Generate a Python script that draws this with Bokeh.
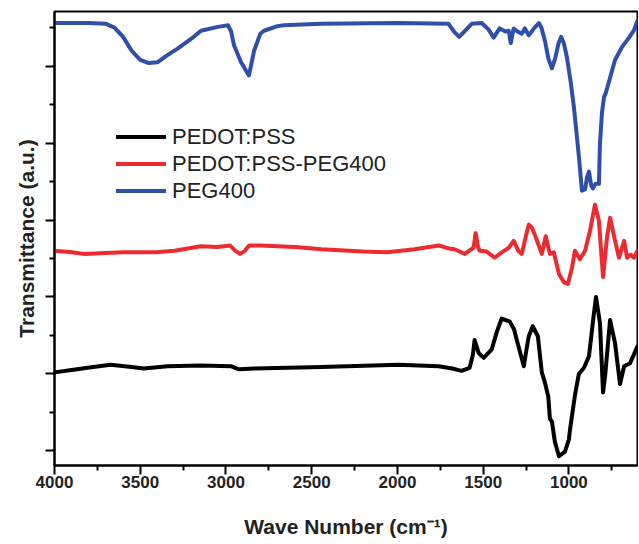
from bokeh.plotting import figure
from bokeh.models import Range1d, FixedTicker, Legend, LegendItem
from bokeh.embed import file_html
from bokeh.resources import INLINE

# ---- data (wavenumber in cm^-1, transmittance in a.u., offset per series) ----
pedot_wn = [4000, 3900, 3807, 3673, 3550, 3480, 3340, 3146, 2971, 2924, 2836, 2444,
            1994, 1760, 1680, 1626, 1579, 1560, 1550, 1526, 1497, 1450, 1420, 1392,
            1345, 1320, 1304, 1263, 1245, 1234, 1211, 1181, 1158, 1140, 1120, 1111,
            1099, 1082, 1058, 1023, 1000, 994, 965, 942, 912, 883, 854, 842, 819,
            801, 789, 760, 731, 702, 678, 643, 600]
pedot_t = [1.02, 1.05, 1.08, 1.12, 1.09, 1.07, 1.10, 1.11, 1.10, 1.06, 1.07, 1.09,
           1.12, 1.10, 1.07, 1.04, 1.08, 1.25, 1.44, 1.27, 1.21, 1.32, 1.55, 1.72,
           1.68, 1.58, 1.44, 1.10, 1.35, 1.49, 1.62, 1.49, 1.02, 0.89, 0.70, 0.42,
           0.38, 0.12, -0.07, -0.01, 0.15, 0.27, 0.72, 1.00, 1.08, 1.23, 1.79, 2.00, 1.66,
           0.76, 0.97, 1.70, 1.40, 0.87, 1.10, 1.14, 1.36]

mix_wn = [4000, 3900, 3830, 3700, 3600, 3409, 3300, 3146, 3050, 2977, 2945, 2918,
          2890, 2865, 2800, 2600, 2444, 2200, 2060, 1900, 1760, 1700, 1667, 1608,
          1556, 1544, 1530, 1520, 1480, 1433, 1392, 1350, 1322, 1295, 1275, 1250,
          1234, 1215, 1199, 1158, 1135, 1111, 1088, 1058, 1029, 1006, 982, 965, 936,
          906, 877, 848, 825, 801, 778, 760, 731, 708, 678, 661, 640, 620, 600]
mix_t = [2.60, 2.58, 2.56, 2.57, 2.58, 2.58, 2.60, 2.66, 2.65, 2.67, 2.60, 2.56,
         2.60, 2.67, 2.67, 2.65, 2.62, 2.59, 2.58, 2.62, 2.67, 2.63, 2.62, 2.56,
         2.64, 2.83, 2.65, 2.60, 2.59, 2.51, 2.58, 2.64, 2.73, 2.60, 2.56, 2.80,
         2.94, 2.90, 2.81, 2.56, 2.79, 2.56, 2.58, 2.30, 2.19, 2.17, 2.38, 2.60, 2.49,
         2.60, 2.86, 3.20, 2.99, 2.26, 2.77, 3.03, 2.73, 2.51, 2.73, 2.51, 2.55, 2.51, 2.60]

peg_wn = [4000, 3900, 3800, 3700, 3650, 3600, 3550, 3500, 3450, 3400, 3350, 3280,
          3200, 3146, 3047, 2988, 2970, 2953, 2912, 2880, 2866, 2850, 2836, 2800,
          2778, 2700, 2661, 2444, 2000, 1702, 1670, 1640, 1610, 1567, 1509, 1470,
          1439, 1404, 1370, 1351, 1339, 1322, 1300, 1275, 1257, 1234, 1200, 1175,
          1160, 1140, 1120, 1099, 1080, 1060, 1045, 1030, 1012, 990, 971, 942, 924,
          905, 895, 883, 870, 860, 845, 825, 819, 807, 795, 785, 760, 731, 690, 649,
          620, 600]
peg_t = [5.56, 5.56, 5.56, 5.55, 5.50, 5.38, 5.20, 5.08, 5.04, 5.05, 5.13, 5.23,
         5.36, 5.46, 5.51, 5.53, 5.45, 5.27, 5.05, 4.93, 4.88, 5.05, 5.20, 5.42,
         5.46, 5.52, 5.53, 5.55, 5.56, 5.55, 5.45, 5.38, 5.45, 5.55, 5.56, 5.48,
         5.37, 5.49, 5.45, 5.46, 5.30, 5.49, 5.45, 5.42, 5.49, 5.40, 5.50, 5.56,
         5.50, 5.33, 5.10, 4.97, 5.10, 5.30, 5.38, 5.30, 5.12, 4.80, 4.47, 3.83, 3.38,
         3.40, 3.55, 3.63, 3.45, 3.41, 3.47, 3.47, 4.00, 4.40, 4.60, 4.65, 4.85, 5.08,
         5.25, 5.37, 5.47, 5.59]

series_names = ["PEDOT:PSS", "PEDOT:PSS-PEG400", "PEG400"]
series_colors = ["#000000", "#ec2a30", "#2f4fa8"]

x_major = [4000, 3500, 3000, 2500, 2000, 1500, 1000]
x_minor = [3750, 3250, 2750, 2250, 1750, 1250, 750]
y_major = [0, 1, 2, 3, 4, 5]
y_minor = [0.5, 1.5, 2.5, 3.5, 4.5, 5.5]

FONT = "Liberation Sans"

p = figure(width=638, height=540, x_range=Range1d(4000, 600), y_range=Range1d(-0.19, 5.71),
           output_backend="svg", toolbar_location=None,
           min_border_left=54, min_border_right=1, min_border_top=11, min_border_bottom=69)
p.grid.visible = False
p.outline_line_color = "black"
p.outline_line_width = 2
p.background_fill_color = "white"
p.border_fill_color = "white"

renderers = []
for wn, t, c in zip([pedot_wn, mix_wn, peg_wn], [pedot_t, mix_t, peg_t], series_colors):
    r = p.line(wn, t, line_color=c, line_width=4, line_join="round", line_cap="round")
    renderers.append(r)

# axes
p.xaxis.ticker = FixedTicker(ticks=x_major, minor_ticks=x_minor)
p.yaxis.ticker = FixedTicker(ticks=y_major, minor_ticks=y_minor)
for ax in (p.xaxis, p.yaxis):
    ax.axis_line_width = 2
    ax.axis_line_color = "black"
    ax.major_tick_line_width = 2
    ax.minor_tick_line_width = 2
    ax.major_tick_in = 0
    ax.major_tick_out = 9
    ax.minor_tick_in = 0
    ax.minor_tick_out = 5
    ax.axis_label_text_font = FONT
    ax.axis_label_text_font_style = "bold"
    ax.axis_label_text_font_size = "21px"
    ax.axis_label_text_color = "#222222"

p.xaxis.major_label_text_font = FONT
p.xaxis.major_label_text_font_style = "bold"
p.xaxis.major_label_text_font_size = "17px"
p.xaxis.major_label_text_color = "#222222"
p.xaxis.major_label_standoff = 1
p.xaxis.axis_label = "Wave Number (cm\u207b\u00b9)"
p.xaxis.axis_label_standoff = 24

p.yaxis.major_label_overrides = {t: "" for t in y_major}
p.yaxis.major_label_standoff = 0
p.yaxis.axis_label = "Transmittance (a.u.)"
p.yaxis.axis_label_standoff = 8

legend = Legend(items=[LegendItem(label=n, renderers=[r]) for n, r in zip(series_names, renderers)],
                location=(62, 261), orientation="vertical",
                glyph_width=50, glyph_height=27, label_height=27, label_standoff=6,
                spacing=0, padding=0, margin=0,
                label_text_font=FONT, label_text_font_size="22px", label_text_color="#222222",
                border_line_color=None, background_fill_alpha=0)
p.add_layout(legend, "center")

open("out.html", "w").write(file_html(p, INLINE))
